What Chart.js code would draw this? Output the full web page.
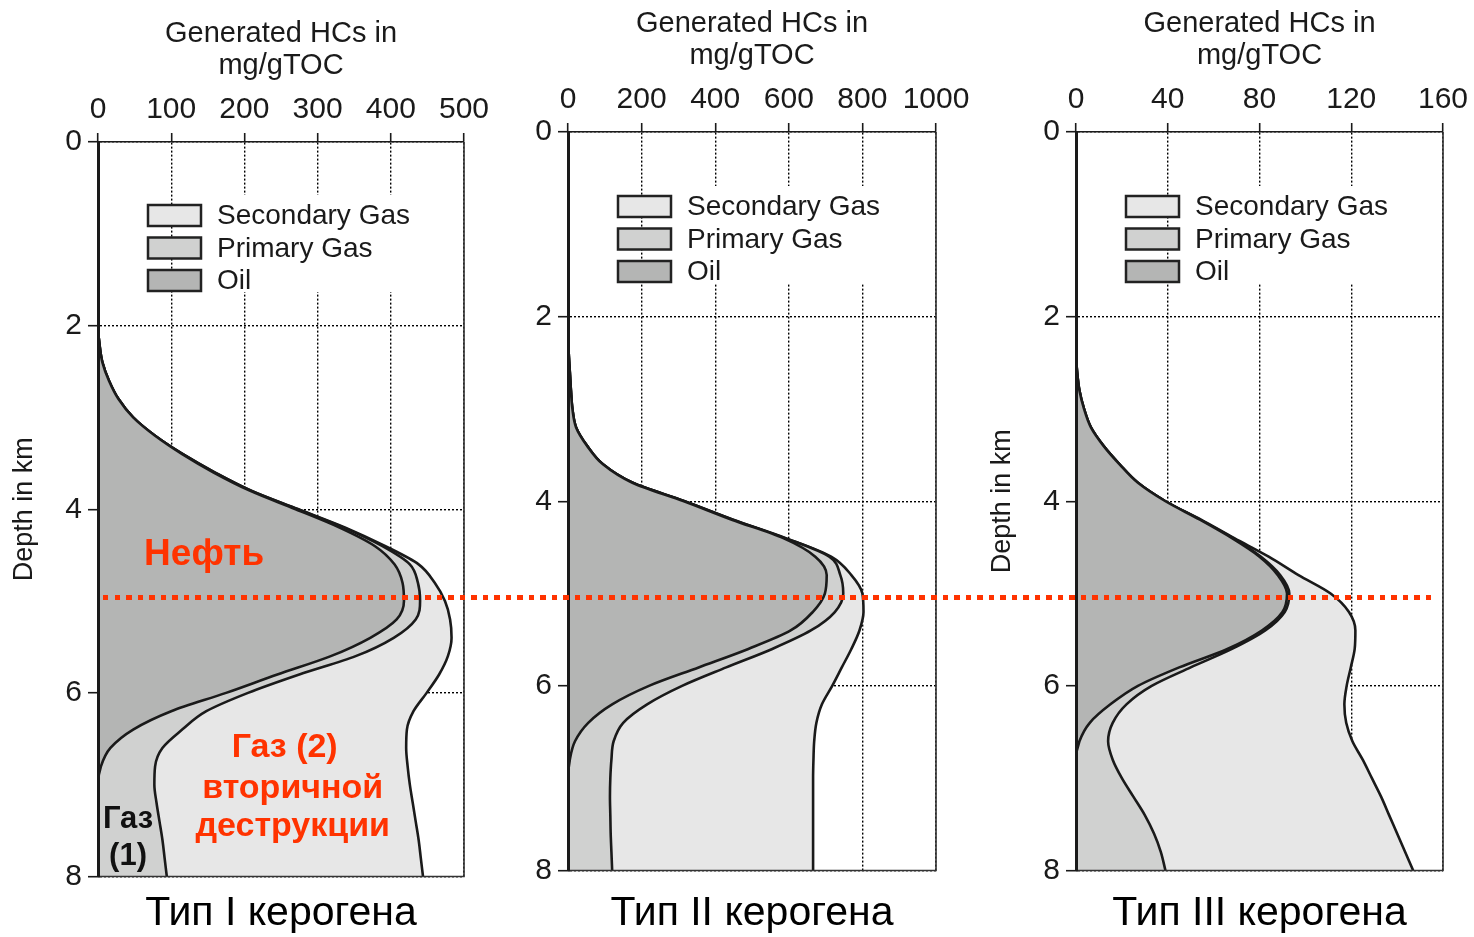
<!DOCTYPE html>
<html><head><meta charset="utf-8">
<script src="https://cdn.jsdelivr.net/npm/chart.js@4.4.1/dist/chart.umd.min.js"></script>
<style>
html,body{margin:0;padding:0;background:#fff;width:1474px;height:937px;overflow:hidden}
canvas{position:absolute;top:0}
#c1{left:0;width:495px;height:937px}
#c2{left:495px;width:485px;height:937px}
#c3{left:980px;width:494px;height:937px}
#oilLevel{position:absolute;left:103px;top:594.5px;width:1332px;height:5px;z-index:5;
 background:repeating-linear-gradient(to right,#ff3300 0,#ff3300 5.5px,transparent 5.5px,transparent 11.5px)}
</style></head><body>
<canvas id="c1" width="495" height="937"></canvas>
<canvas id="c2" width="485" height="937"></canvas>
<canvas id="c3" width="494" height="937"></canvas>
<div id="oilLevel"></div>
<script>
// ---- data ----
const depthKm = [0, 1.6, 2.0, 2.2, 2.4, 2.6, 2.8, 3.0, 3.2, 3.4, 3.6, 3.8, 4.0, 4.2, 4.4, 4.6, 4.8, 5.0, 5.2, 5.4, 5.6, 5.8, 6.0, 6.2, 6.4, 6.6, 6.8, 7.0, 7.2, 7.4, 7.6, 7.8, 8.0];

const type1Oil          = [0,0,0,2,6,15,28,48,78,115,158,208,270,330,378,405,416,418,408,372,318,245,175,100,48,17,4,0,0,0,0,0,0];
const type1PrimaryGas   = [0,0,0,0,0,0,0,0,0,1,2,2,3,6,10,21,21,22,26,32,34,30,30,48,67,71,74,77,80,84,88,91,94];
const type1SecondaryGas = [0,0,0,0,0,0,0,0,0,0,0,0,1,2,4,12,23,34,47,79,126,191,244,283,307,333,345,349,350,350,350,350,350];

const type2Oil          = [0,0,0,0,2,5,8,12,22,52,95,175,315,445,585,672,703,698,665,605,490,355,220,120,55,19,5,0,0,0,0,0,0];
const type2PrimaryGas   = [0,0,0,0,0,0,0,0,0,0,0,1,2,3,5,38,37,50,60,55,65,75,90,95,95,105,113,115,114,115,116,118,120];
const type2SecondaryGas = [0,0,0,0,0,0,0,0,0,0,0,0,0,1,2,5,30,52,78,132,215,314,408,475,525,545,549,551,552,551,550,548,546];

const type3Oil          = [0,0,0,0,0,0.5,1.5,3.5,6.5,12,19,27,39,54,68,80,88,92,90,81,66,45,27,15,6,1.5,0,0,0,0,0,0,0];
const type3PrimaryGas   = [0,0,0,0,0,0,0,0,0,0,0,0,0,0,0.5,0.5,1,1,1,1.5,2,5,6,7,10,12.5,16,20,25,30,34,37,39];
const type3SecondaryGas = [0,0,0,0,0,0,0,0,0,0,0,0,0,0.5,0.5,3.5,8,18,28,39.3,53.5,69.8,85,95,101.8,106.5,109,109,108,106.5,106,106.5,108];

const seriesNames = ['Oil', 'Primary Gas', 'Secondary Gas'];
const xTitle = ['Generated HCs in', 'mg/gTOC'];
const yTitle = 'Depth in km';
const captions = ['Тип I керогена', 'Тип II керогена', 'Тип III керогена'];
const xMaxima = [500, 1000, 160];
const xSteps = [100, 200, 40];

// annotations of panel 1: [text, x value, depth (baseline)]
const notesRed = [['Нефть', 145, 4.61], ['Газ (2)', 255, 6.70], ['вторичной', 266, 7.14], ['деструкции', 266, 7.56]];
const notesBlack = [['Газ', 41, 7.47], ['(1)', 41, 7.88]];

// ---- styling ----
const FONT = "'Liberation Sans', Arial, Helvetica, sans-serif";
const INK = '#1a1a1a';
const FILLS = ['#b4b5b4', '#d0d1d0', '#e7e7e7'];

const pts = arr => depthKm.map((d, i) => ({x: arr[i], y: d}));

const legendPlugin = {
  id: 'insideLegend',
  afterDatasetsDraw(chart, args, o) {
    const {ctx, chartArea: a} = chart;
    const items = [2, 1, 0];
    const bx = a.left + 50, by = a.top + o.top, bw = 53, bh = 21, pitch = 32.5;
    const tx = bx + 69;
    ctx.save();
    ctx.font = '28px ' + FONT;
    let maxW = 0;
    items.forEach(i => { maxW = Math.max(maxW, ctx.measureText(chart.data.datasets[i].label).width); });
    ctx.fillStyle = '#fff';
    ctx.fillRect(tx - 8, by - 10, maxW + 22, pitch * 2 + bh + 11);
    items.forEach((i, k) => {
      const ds = chart.data.datasets[i];
      const y = by + k * pitch;
      ctx.fillStyle = ds.backgroundColor;
      ctx.fillRect(bx, y, bw, bh);
      ctx.lineWidth = 2.5; ctx.strokeStyle = '#222';
      ctx.strokeRect(bx, y, bw, bh);
      ctx.fillStyle = INK; ctx.textBaseline = 'middle'; ctx.textAlign = 'left';
      ctx.fillText(ds.label, tx, y + bh / 2 + 1);
    });
    ctx.restore();
  }
};

const framePlugin = {
  id: 'frame',
  afterDatasetsDraw(chart) {
    const {ctx, chartArea: a} = chart;
    ctx.save();
    ctx.strokeStyle = '#333'; ctx.lineWidth = 1.6;
    ctx.beginPath();
    ctx.moveTo(a.right, a.top); ctx.lineTo(a.right, a.bottom); ctx.lineTo(a.left, a.bottom);
    ctx.stroke();
    ctx.restore();
  }
};

const notesPlugin = {
  id: 'notes',
  afterDatasetsDraw(chart, args, o) {
    if (!o.show) return;
    const {ctx, scales} = chart;
    ctx.save();
    ctx.textAlign = 'center'; ctx.textBaseline = 'alphabetic';
    ctx.fillStyle = '#ff3300';
    notesRed.forEach(([t, x, d], k) => {
      ctx.font = 'bold ' + (k === 0 ? 37 : 34) + 'px ' + FONT;
      ctx.fillText(t, scales.x.getPixelForValue(x), scales.y.getPixelForValue(d));
    });
    ctx.fillStyle = '#111';
    ctx.font = 'bold 31px ' + FONT;
    notesBlack.forEach(([t, x, d]) => {
      ctx.fillText(t, scales.x.getPixelForValue(x), scales.y.getPixelForValue(d));
    });
    ctx.restore();
  }
};

function makePanel(p) {
  const datasets = [p.oil, p.prim, p.sec].map((arr, i) => ({
    label: seriesNames[i],
    data: pts(arr),
    backgroundColor: FILLS[i],
    borderColor: INK,
    borderWidth: 2.6,
    pointRadius: 0,
    cubicInterpolationMode: 'monotone',
    fill: i === 0 ? 'origin' : '-1'
  }));
  return new Chart(document.getElementById(p.id), {
    type: 'line',
    data: {datasets},
    plugins: [legendPlugin, framePlugin, notesPlugin],
    options: {
      responsive: false, animation: false, events: [],
      indexAxis: 'y',
      layout: {padding: {left: 0, top: 0, right: p.padRight, bottom: 0}},
      plugins: {
        legend: {display: false}, tooltip: {enabled: false},
        title: {display: true, position: 'bottom', fullSize: false, text: p.caption, color: '#000',
                font: {family: FONT, size: 41, weight: 'normal', lineHeight: 1.1},
                padding: {top: p.capPadTop, bottom: 0.9}},
        insideLegend: {top: p.legendTop},
        notes: {show: !!p.notes}
      },
      scales: {
        x: {
          type: 'linear', position: 'top', stacked: true,
          min: 0, max: p.xMax,
          afterFit: s => { s.height = p.axisH; },
          ticks: {stepSize: p.xStep, autoSkip: false, maxRotation: 0, color: INK, padding: 5,
                  format: {useGrouping: false},
                  font: {family: FONT, size: 30}},
          grid: {color: '#000', lineWidth: 1.4, tickLength: 9, tickColor: INK, tickWidth: 1.6},
          border: {display: true, color: INK, width: 1.6, dash: [2, 2], z: 1},
          title: {display: true, text: xTitle, color: INK,
                  font: {family: FONT, size: 29, lineHeight: '32px'},
                  padding: {top: p.xTitlePad, bottom: 0}}
        },
        y: {
          type: 'linear', reverse: true, min: 0, max: 8,
          afterFit: s => { s.width = p.axisW; },
          ticks: {stepSize: 2, color: INK, padding: 6, font: {family: FONT, size: 30}},
          grid: {color: '#000', lineWidth: 1.4, tickLength: 10, tickColor: INK, tickWidth: 1.6},
          border: {display: true, color: INK, width: 3, dash: [2, 2], z: 1},
          title: {display: p.depthTitle, text: yTitle, color: INK,
                  font: {family: FONT, size: 27, lineHeight: 1.2},
                  padding: {top: p.yTitlePad || 0, bottom: 0}}
        }
      }
    }
  });
}

makePanel({id: 'c1', oil: type1Oil, prim: type1PrimaryGas, sec: type1SecondaryGas,
  xMax: xMaxima[0], xStep: xSteps[0], caption: captions[0], depthTitle: true,
  axisW: 98, axisH: 142, padRight: 31, xTitlePad: 18, yTitlePad: 8.8, capPadTop: 14.5, legendTop: 63, notes: true});
makePanel({id: 'c2', oil: type2Oil, prim: type2PrimaryGas, sec: type2SecondaryGas,
  xMax: xMaxima[1], xStep: xSteps[1], caption: captions[1], depthTitle: false,
  axisW: 73, axisH: 132, padRight: 44, xTitlePad: 8, capPadTop: 20.5, legendTop: 64, notes: false});
makePanel({id: 'c3', oil: type3Oil, prim: type3PrimaryGas, sec: type3SecondaryGas,
  xMax: xMaxima[2], xStep: xSteps[2], caption: captions[2], depthTitle: true,
  axisW: 96, axisH: 132, padRight: 31, xTitlePad: 8, yTitlePad: 6.8, capPadTop: 20.5, legendTop: 64, notes: false});
</script>
</body></html>
